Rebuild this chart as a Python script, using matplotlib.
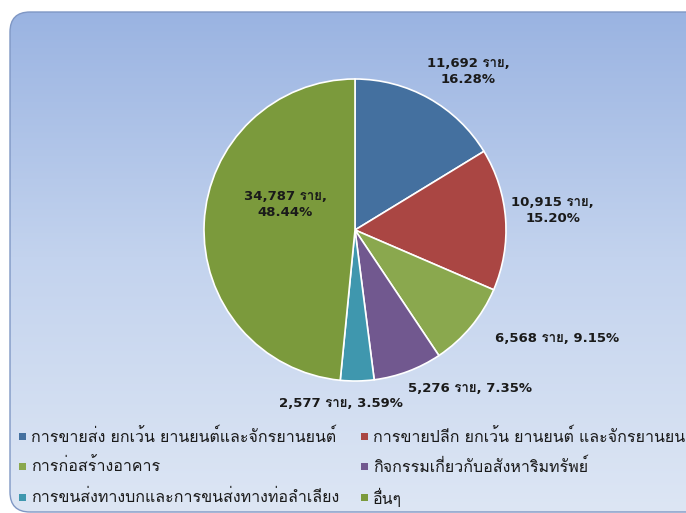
import numpy as np
import matplotlib
matplotlib.use('Agg')
import matplotlib.pyplot as plt
from matplotlib import font_manager
from matplotlib.ft2font import FT2Font
from matplotlib.patches import FancyBboxPatch, Rectangle
from matplotlib.colors import LinearSegmentedColormap

# ข้อมูล
categories = ['การขายส่ง ยกเว้น ยานยนต์และจักรยานยนต์',
              'การขายปลีก ยกเว้น ยานยนต์ และจักรยานยนต์',
              'การก่อสร้างอาคาร',
              'กิจกรรมเกี่ยวกับอสังหาริมทรัพย์',
              'การขนส่งทางบกและการขนส่งทางท่อลำเลียง',
              'อื่นๆ']
counts = [11692, 10915, 6568, 5276, 2577, 34787]
percents = [16.28, 15.20, 9.15, 7.35, 3.59, 48.44]
colors = ['#44709f', '#aa4643', '#8aa84e', '#71588f', '#3f97ae', '#7b9a3c']

# หา font ที่มีอักษรไทย
thai_font = None
for f in font_manager.fontManager.ttflist:
    try:
        if FT2Font(f.fname).get_char_index(ord('ก')):
            thai_font = f.name
            break
    except Exception:
        pass
families = ['DejaVu Sans'] + ([thai_font] if thai_font else [])
plt.rcParams['font.family'] = families

fig = plt.figure(figsize=(6.86, 5.13), dpi=100)
ax = fig.add_axes([0, 0, 1, 1])

# พาย
cx, cy, R = 355, 283, 151
wedges, _ = ax.pie(counts, colors=colors, startangle=90, counterclock=False,
                   radius=R, center=(cx, cy), frame=True,
                   wedgeprops=dict(edgecolor='white', linewidth=1.2, zorder=2))
ax.set_xlim(0, 686)
ax.set_ylim(0, 513)
ax.set_aspect('auto')
ax.axis('off')

# พื้นหลังไล่สี
box = FancyBboxPatch((10, 1), 700, 500, boxstyle='round,pad=0,rounding_size=20',
                     facecolor='none', edgecolor='#7f97c4', linewidth=1.0, zorder=1)
ax.add_patch(box)
cmap = LinearSegmentedColormap.from_list('bg', ['#dde6f4', '#c3d3ee', '#98b2e1'])
grad = np.linspace(0, 1, 256).reshape(-1, 1)
im = ax.imshow(grad, extent=(0, 686, 0, 513), origin='lower', cmap=cmap,
               aspect='auto', zorder=0)
im.set_clip_path(box)
ax.set_xlim(0, 686)
ax.set_ylim(0, 513)

labels = [f'{c:,} ราย,\n{p:.2f}%' for c, p in zip(counts, percents)]
for i in (2, 3, 4):
    labels[i] = labels[i].replace('\n', ' ')
label_pos = [(0.75, 1.05), (1.31, 0.13), (1.34, -0.72), (0.76, -1.05),
             (-0.09, -1.15), (-0.46, 0.17)]
for lab, (dx, dy) in zip(labels, label_pos):
    ax.text(cx + dx * R, cy + dy * R, lab, ha='center', va='center',
            fontsize=9.5, fontweight='bold', color='#1a1a1a',
            linespacing=1.35, zorder=3)

# คำอธิบายสัญลักษณ์
leg_x = [22, 364]
leg_y = [436, 466, 497]
for i, (name, col) in enumerate(zip(categories, colors)):
    x = leg_x[i % 2]
    y = 513 - leg_y[i // 2]
    ax.add_patch(Rectangle((x - 3, y - 3.5), 7, 7, facecolor=col,
                           edgecolor='none', zorder=3))
    ax.text(x + 9, y, name, ha='left', va='center', fontsize=11.5,
            color='#1a1a1a', zorder=3, clip_on=False)

fig.savefig('out.png', dpi=100)
